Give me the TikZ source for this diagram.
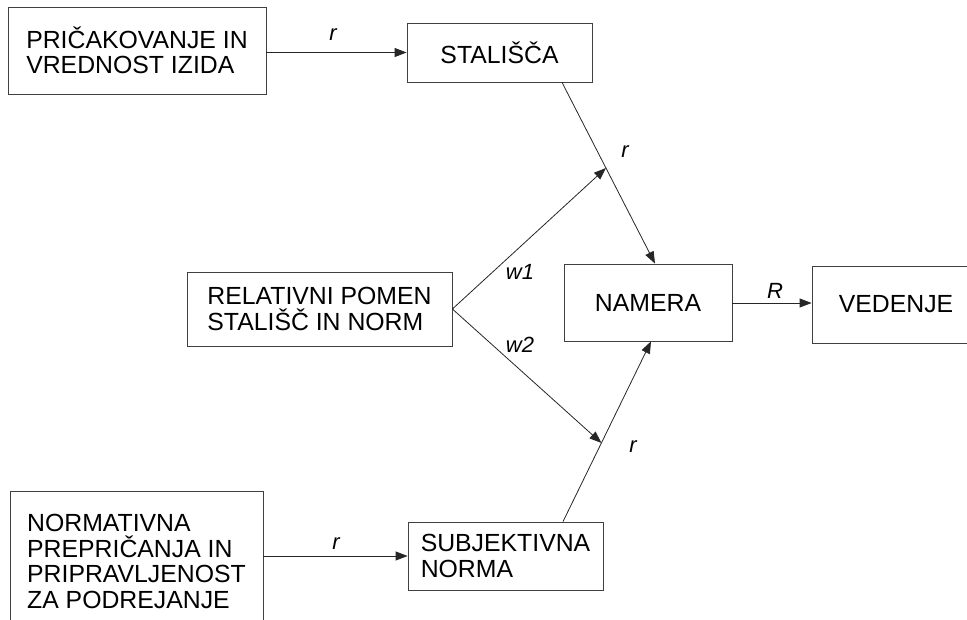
\documentclass[tikz,border=0pt]{standalone}
\usepackage{fontspec}
\setmainfont{Liberation Sans}
\usetikzlibrary{positioning,calc,arrows.meta}

\begin{document}
\begin{tikzpicture}[x=1pt, y=-1pt,
        boxnode/.style={rectangle, draw=black!75, line width=0.8pt, align=left, font=\fontsize{24.8}{25.5}\selectfont},
        labelnode/.style={font=\fontsize{22}{24}\selectfont\itshape, inner sep=0pt},
        arrowline/.style={draw=black!85, line width=0.8pt, -{Triangle[length=12pt, width=9pt]}},
        ]
        \useasboundingbox (0,0) rectangle (967,620);
        \clip (0,0) rectangle (967,620);
        %Nodes
        \node[boxnode, minimum width=258pt, minimum height=87pt] (pricakovanje) at (137,50.5) {PRIČAKOVANJE IN\\VREDNOST IZIDA};
        \node[boxnode, minimum width=185pt, minimum height=59pt] (stalisca) at (499.5,52.5) {STALIŠČA};
        \node[boxnode, minimum width=265pt, minimum height=74pt] (relativni) at (319.5,309) {RELATIVNI POMEN\\STALIŠČ IN NORM};
        \node[boxnode, minimum width=168pt, minimum height=77pt] (namera) at (648,302.5) {NAMERA};
        \node[boxnode, minimum width=168pt, minimum height=77pt] (vedenje) at (896,304.5) {VEDENJE};
        \node[boxnode, minimum width=195pt, minimum height=68pt] (subjektivna) at (505.5,556) {SUBJEKTIVNA\\NORMA};
        \node[boxnode, minimum width=253pt, minimum height=141pt] (normativna) at (136.5,561.5) {NORMATIVNA\\PREPRIČANJA IN\\PRIPRAVLJENOST\\ZA PODREJANJE};

        %Junctions on the slanted lines
        \coordinate (staliscaout) at ([xshift=62.5pt]stalisca.south);
        \coordinate (nameratop) at ([xshift=7pt]namera.north);
        \coordinate (subjektivnaout) at ([xshift=57.5pt]subjektivna.north);
        \coordinate (namerabottom) at ([xshift=3pt]namera.south);
        \coordinate (upperjoin) at ($(staliscaout)!0.4725!(nameratop)$);
        \coordinate (lowerjoin) at ($(subjektivnaout)!0.4365!(namerabottom)$);

        %Connections
        \draw[arrowline] (pricakovanje.east |- stalisca.west) -- (stalisca.west);
        \draw[arrowline] (staliscaout) -- (nameratop);
        \draw[arrowline] (relativni.east) -- (upperjoin);
        \draw[arrowline] (relativni.east) -- (lowerjoin);
        \draw[arrowline] (subjektivnaout) -- (namerabottom);
        \draw[arrowline] (normativna.east |- subjektivna.west) -- (subjektivna.west);
        \draw[arrowline] (namera.east |- 0,303) -- (vedenje.west |- 0,303);

        %Labels
        \node[labelnode] (rtop) at (333,35) {r};
        \node[labelnode] (rupper) at (625,152) {r};
        \node[labelnode] (wone) at (520,272) {w1};
        \node[labelnode] (wtwo) at (520,345) {w2};
        \node[labelnode] (rlower) at (633,447) {r};
        \node[labelnode] (rbottom) at (336,544) {r};
        \node[labelnode] (rbig) at (775,291) {R};
\end{tikzpicture}
\end{document}
